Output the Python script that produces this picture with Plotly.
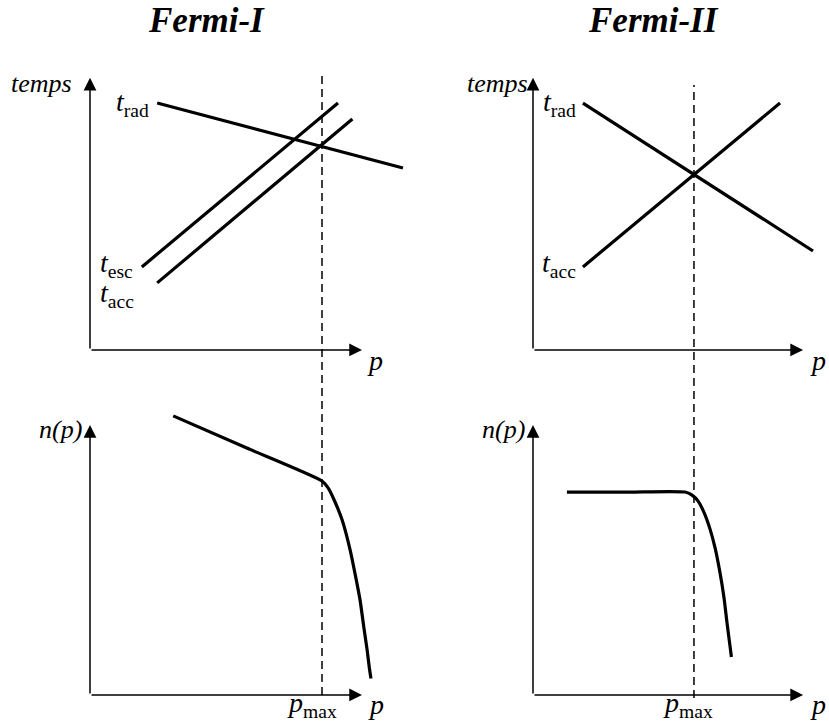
import plotly.graph_objects as go

# --- données du schéma (unités arbitraires) ---
# Fermi-I : temps caractéristiques
p_rad_1 = [2.1, 9.78]
t_rad_1 = [8.98, 6.62]
p_esc_1 = [1.62, 7.75]
t_esc_1 = [3.02, 8.98]
p_acc_1 = [2.1, 8.2]
t_acc_1 = [2.44, 8.4]

# Fermi-II : temps caractéristiques
p_rad_2 = [1.56, 8.75]
t_rad_2 = [8.98, 3.6]
p_acc_2 = [1.56, 7.72]
t_acc_2 = [3.02, 8.98]

# spectres n(p)
p_spec_1 = [2.6, 4.9, 7.25, 7.44, 7.63, 7.88, 8.13, 8.31, 8.44, 8.56, 8.66, 8.73, 8.78]
n_spec_1 = [10.15, 8.98, 7.78, 7.53, 7.09, 6.36, 5.27, 4.25, 3.45, 2.44, 1.64, 0.98, 0.6]
p_spec_2 = [1.06, 3.0, 4.75, 4.97, 5.16, 5.34, 5.53, 5.69, 5.84, 5.97, 6.06, 6.16, 6.2]
n_spec_2 = [7.38, 7.38, 7.38, 7.27, 7.05, 6.65, 6.04, 5.35, 4.47, 3.53, 2.65, 1.75, 1.38]

p_max_1 = 7.25
p_max_2 = 5.03
p_axis_end = [8.5, 8.44]
t_axis_end = 9.9
n_axis_end = 9.82

titres = ["Fermi-I", "Fermi-II"]

W, H = 829, 725
FONT = "Liberation Serif, Times New Roman, serif"


def px(v):
    return v / W


def py(v):
    return 1 - v / H


fig = go.Figure()
line = dict(color="black", width=3.2)
courbe = dict(color="black", width=3.2, shape="spline", smoothing=0.6)

# panneau haut gauche (x, y)
fig.add_trace(go.Scatter(x=p_rad_1, y=t_rad_1, mode="lines", line=line, xaxis="x", yaxis="y"))
fig.add_trace(go.Scatter(x=p_esc_1, y=t_esc_1, mode="lines", line=line, xaxis="x", yaxis="y"))
fig.add_trace(go.Scatter(x=p_acc_1, y=t_acc_1, mode="lines", line=line, xaxis="x", yaxis="y"))
# panneau haut droit (x2, y2)
fig.add_trace(go.Scatter(x=p_rad_2, y=t_rad_2, mode="lines", line=line, xaxis="x2", yaxis="y2"))
fig.add_trace(go.Scatter(x=p_acc_2, y=t_acc_2, mode="lines", line=line, xaxis="x2", yaxis="y2"))
# panneaux bas
fig.add_trace(go.Scatter(x=p_spec_1, y=n_spec_1, mode="lines", line=courbe, xaxis="x3", yaxis="y3"))
fig.add_trace(go.Scatter(x=p_spec_2, y=n_spec_2, mode="lines", line=courbe, xaxis="x4", yaxis="y4"))

# domaines en pixels -> 32 px par unité en x, 27.5 px par unité en y
ax_common = dict(visible=False, fixedrange=True)
fig.update_layout(
    xaxis=dict(domain=[px(80), px(410)], range=[-0.3125, 10], anchor="y", **ax_common),
    yaxis=dict(domain=[py(360), py(60)], range=[-0.364, 10.545], anchor="x", **ax_common),
    xaxis2=dict(domain=[px(523), px(829)], range=[-0.3125, 9.25], anchor="y2", **ax_common),
    yaxis2=dict(domain=[py(360), py(60)], range=[-0.364, 10.545], anchor="x2", **ax_common),
    xaxis3=dict(domain=[px(80), px(410)], range=[-0.3125, 10], anchor="y3", **ax_common),
    yaxis3=dict(domain=[py(705), py(395)], range=[-0.364, 10.909], anchor="x3", **ax_common),
    xaxis4=dict(domain=[px(523), px(829)], range=[-0.3125, 9.25], anchor="y4", **ax_common),
    yaxis4=dict(domain=[py(705), py(395)], range=[-0.364, 10.909], anchor="x4", **ax_common),
)

annotations = []


def arrow(xr, yr, x, y):
    annotations.append(dict(xref=xr, yref=yr, axref=xr, ayref=yr, x=x, y=y, ax=0, ay=0,
                            text="", showarrow=True, arrowhead=2, arrowsize=1.7,
                            arrowwidth=1.5, arrowcolor="black", standoff=0))


def label(xr, yr, x, y, text, xanchor="center", size=28, xshift=0, yshift=0):
    annotations.append(dict(xref=xr, yref=yr, x=x, y=y, text=text, showarrow=False,
                            xanchor=xanchor, yanchor="middle", xshift=xshift, yshift=yshift,
                            font=dict(family=FONT, size=size, color="black")))


# axes avec flèches
for xr, yr, col, top in [("x", "y", 0, t_axis_end), ("x2", "y2", 1, t_axis_end),
                         ("x3", "y3", 0, n_axis_end), ("x4", "y4", 1, n_axis_end)]:
    arrow(xr, yr, p_axis_end[col], 0)
    arrow(xr, yr, 0, top)

# étiquettes
label("x", "y", 0, 9.7, "<i>temps</i>", "right", size=26, xshift=-16)
label("x2", "y2", -0.1, 9.7, "<i>temps</i>", "right", size=26)
label("x", "y", 1.9, t_rad_1[0], "<i>t</i><sub>rad</sub>", "right")
label("x", "y", 1.42, t_esc_1[0], "<i>t</i><sub>esc</sub>", "right", yshift=2)
label("x", "y", 1.45, 2.0, "<i>t</i><sub>acc</sub>", "right")
label("x2", "y2", 1.4, t_rad_2[0], "<i>t</i><sub>rad</sub>", "right")
label("x2", "y2", 1.4, t_acc_2[0], "<i>t</i><sub>acc</sub>", "right", yshift=2)
label("x3", "y3", -0.2, 9.64, "<i>n(p)</i>", "right", size=26)
label("x4", "y4", -0.19, 9.64, "<i>n(p)</i>", "right", size=26)
label("x", "y", 8.9, 0, "<i>p</i>", yshift=-11)
label("x2", "y2", 8.9, 0, "<i>p</i>", yshift=-11)
label("x3", "y3", 8.94, 0, "<i>p</i>", yshift=-10)
label("x4", "y4", 8.9, 0, "<i>p</i>", yshift=-10)
label("x3", "y3", p_max_1, 0, "<i>p</i><sub>max</sub>", xshift=-10, yshift=-10)
label("x4", "y4", p_max_2, 0, "<i>p</i><sub>max</sub>", xshift=-6, yshift=-10)

# titres
for xc, t in zip([206, 653], titres):
    annotations.append(dict(xref="paper", yref="paper", x=px(xc), y=py(21), text="<b><i>" + t + "</i></b>",
                            showarrow=False, xanchor="center", yanchor="middle",
                            font=dict(family=FONT, size=35, color="black")))

# pointillés verticaux à p_max
shapes = [
    dict(type="line", xref="x", yref="paper", x0=p_max_1, x1=p_max_1, y0=py(695), y1=py(75),
         line=dict(color="black", width=1.5, dash="8px,5px")),
    dict(type="line", xref="x2", yref="paper", x0=p_max_2, x1=p_max_2, y0=py(698), y1=py(85),
         line=dict(color="black", width=1.5, dash="8px,5px")),
]

fig.update_layout(
    width=W, height=H,
    margin=dict(l=0, r=0, t=0, b=0),
    paper_bgcolor="white", plot_bgcolor="white",
    showlegend=False,
    annotations=annotations,
    shapes=shapes,
)

fig.write_html("out.html", config={"displayModeBar": False},
               post_script="document.body.style.margin='0px';")
